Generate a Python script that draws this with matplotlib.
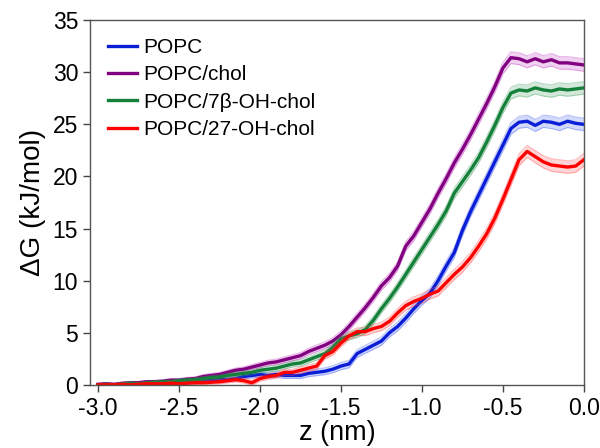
import numpy as np
import matplotlib
matplotlib.use("Agg")
import matplotlib.pyplot as plt

plt.rcParams['font.family'] = ['Liberation Sans', 'DejaVu Sans']
plt.rcParams['axes.unicode_minus'] = False

# reaction coordinate, nm
z = np.round(np.arange(-3.0, 0.001, 0.05), 2)

popc = [0.0, 0.05, 0.0, 0.05, 0.1, 0.1, 0.15, 0.15, 0.2, 0.2,
        0.25, 0.3, 0.3, 0.35, 0.4, 0.5, 0.5, 0.6, 0.8, 0.9,
        1.0, 0.9, 1.0, 0.9, 0.9, 0.9, 1.1, 1.2, 1.3, 1.5,
        1.8, 2.0, 3.0, 3.4, 3.8, 4.2, 5.0, 5.6, 6.4, 7.3,
        8.1, 8.8, 10.0, 11.4, 12.7, 14.8, 16.6, 18.2, 19.8, 21.4,
        23.0, 24.6, 25.2, 25.3, 24.9, 25.3, 25.2, 25.0, 25.3, 25.1,
        25.0]

chol = [0.05, 0.1, 0.05, 0.15, 0.2, 0.2, 0.3, 0.3, 0.35, 0.45,
        0.45, 0.55, 0.6, 0.8, 0.9, 1.0, 1.2, 1.4, 1.5, 1.7,
        1.9, 2.1, 2.2, 2.4, 2.6, 2.8, 3.2, 3.5, 3.8, 4.2,
        4.8, 5.6, 6.5, 7.4, 8.4, 9.5, 10.3, 11.4, 13.3, 14.3,
        15.6, 16.9, 18.4, 19.8, 21.3, 22.6, 24.0, 25.5, 27.0, 28.6,
        30.4, 31.4, 31.3, 31.0, 31.3, 31.0, 31.2, 30.9, 30.9, 30.8,
        30.7]

oh7 = [0.0, 0.05, 0.0, 0.1, 0.15, 0.1, 0.2, 0.25, 0.3, 0.3,
       0.4, 0.45, 0.5, 0.6, 0.7, 0.75, 0.9, 1.0, 1.1, 1.2,
       1.4, 1.5, 1.6, 1.8, 2.0, 2.1, 2.4, 2.7, 3.0, 3.6,
       4.4, 4.7, 4.9, 5.3, 6.2, 7.3, 8.3, 9.4, 10.6, 11.8,
       13.0, 14.2, 15.4, 16.7, 18.4, 19.5, 20.6, 21.8, 23.3, 24.9,
       26.6, 28.0, 28.3, 28.2, 28.5, 28.3, 28.2, 28.4, 28.3, 28.4,
       28.5]

oh27 = [0.0, 0.0, 0.0, 0.05, 0.0, 0.05, 0.1, 0.1, 0.1, 0.15,
        0.1, 0.15, 0.2, 0.2, 0.25, 0.3, 0.4, 0.5, 0.4, 0.2,
        0.6, 0.8, 0.9, 1.2, 1.2, 1.4, 1.6, 1.8, 2.8, 3.2,
        4.0, 4.7, 5.1, 5.1, 5.4, 5.6, 6.1, 6.9, 7.6, 8.0,
        8.3, 8.7, 9.0, 9.8, 10.6, 11.3, 12.2, 13.3, 14.5, 16.0,
        17.8, 19.7, 21.6, 22.4, 21.9, 21.4, 21.1, 21.0, 20.9, 21.0,
        21.6]

# uncertainty of the profiles (shared)
err = [0.1, 0.1, 0.1, 0.1, 0.12, 0.12, 0.12, 0.14, 0.14, 0.15,
       0.15, 0.16, 0.17, 0.18, 0.19, 0.2, 0.21, 0.22, 0.23, 0.24,
       0.25, 0.26, 0.27, 0.28, 0.29, 0.3, 0.31, 0.32, 0.33, 0.34,
       0.35, 0.36, 0.37, 0.38, 0.39, 0.4, 0.41, 0.42, 0.43, 0.44,
       0.45, 0.46, 0.47, 0.48, 0.49, 0.5, 0.5, 0.52, 0.53, 0.54,
       0.55, 0.56, 0.57, 0.58, 0.58, 0.59, 0.6, 0.6, 0.6, 0.6,
       0.6]

labels = ['POPC', 'POPC/chol', 'POPC/7\u03b2-OH-chol', 'POPC/27-OH-chol']
colors = ['#0a1ed8', '#80007f', '#15803a', '#ff0000']
band_colors = ['#3a55f0', '#c030c0', '#3a9a5a', '#ff4040']
series = [popc, chol, oh7, oh27]

fig = plt.figure(figsize=(6.0, 4.48), dpi=100)
ax = fig.add_axes([0.150, 0.141, 0.823, 0.814])

err = np.array(err)
for y, c, bc, lab in zip(series, colors, band_colors, labels):
    y = np.array(y)
    ax.fill_between(z, y - err, y + err, color=bc, alpha=0.22, lw=0)
    ax.plot(z, y - err, color=bc, alpha=0.35, lw=0.8)
    ax.plot(z, y + err, color=bc, alpha=0.35, lw=0.8)
    ax.plot(z, y, color=c, lw=2.4, label=lab)

ax.set_xlim(-3.05, 0.0)
ax.set_ylim(0, 35)
ax.set_xticks([-3.0, -2.5, -2.0, -1.5, -1.0, -0.5, 0.0])
ax.set_yticks(range(0, 36, 5))
ax.set_xticklabels(['-3.0', '-2.5', '-2.0', '-1.5', '-1.0', '-0.5', '0.0'])
ax.tick_params(labelsize=16.5, direction='out', length=5, width=1, color='#444444')
for s in ax.spines.values():
    s.set_color('#555555')
    s.set_linewidth(1.0)

ax.set_xlabel('z (nm)', fontsize=19.5, labelpad=0)
ax.set_ylabel('\u0394G (kJ/mol)', fontsize=20, labelpad=5)

ax.legend(loc='upper left', frameon=False, fontsize=15, handlelength=1.4,
          handletextpad=0.3, labelspacing=0.4, borderaxespad=0.45,
          bbox_to_anchor=(0.0, 1.0))

fig.savefig('out.png', dpi=100)
